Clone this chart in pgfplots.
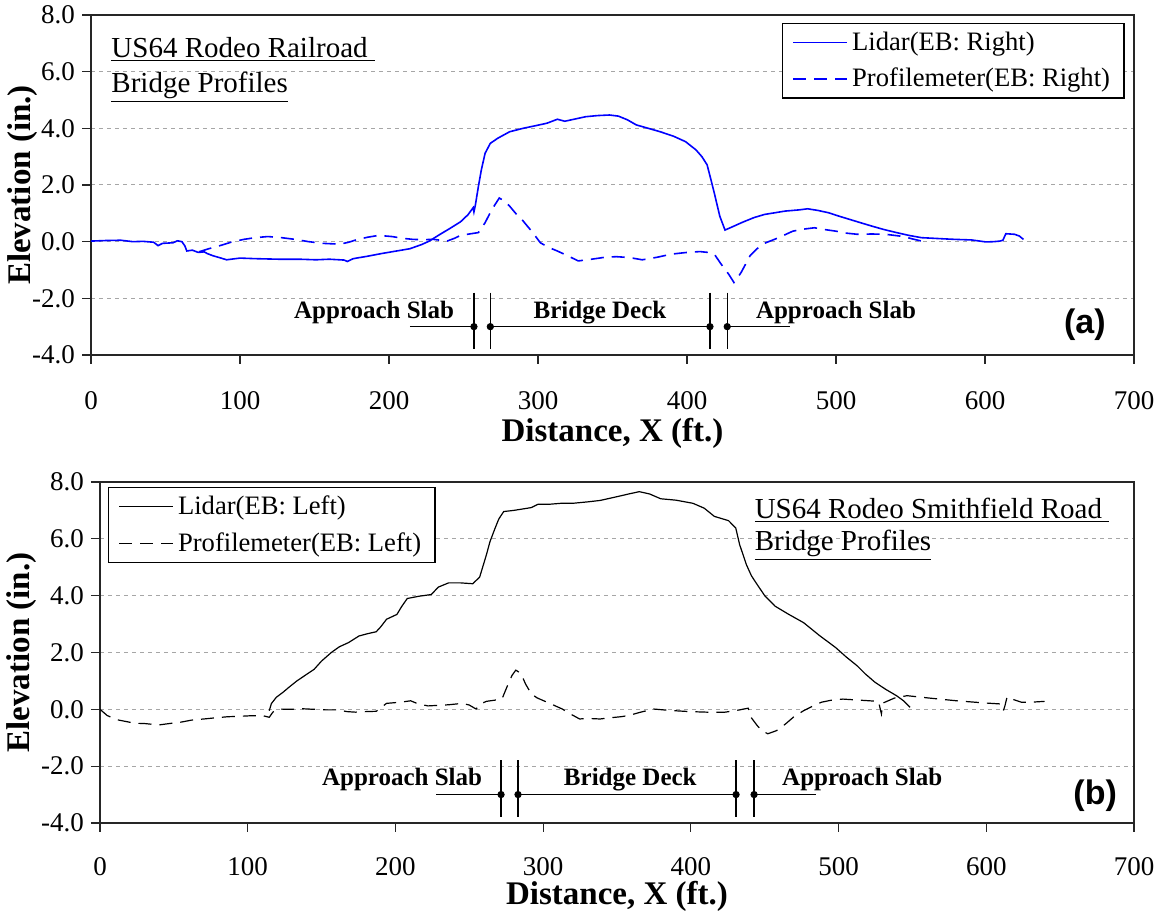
\documentclass[border=0pt]{standalone}
\usepackage{fontspec}
\setmainfont{Liberation Serif}
\newfontfamily\arialfont{Liberation Sans}
\usepackage{pgfplots}
\pgfplotsset{compat=1.18}

\pgfplotsset{
  profile/.style={
    scale only axis,
    xmin=0, xmax=700, ymin=-4, ymax=8,
    xtick={0,100,...,700}, ytick={-4,-2,...,8},
    tick align=outside, xtick pos=bottom, ytick pos=left,
    major tick length=4.5pt,
    axis line style={black!85, line width=0.7pt},
    every tick/.style={black!85, line width=0.6pt},
    ymajorgrids,
    major grid style={gray!70, dash pattern=on 2pt off 2pt, line width=0.5pt},
    tick label style={font=\fontsize{13.5}{16}\selectfont},
    /pgf/number format/assume math mode=true,
    yticklabel style={/pgf/number format/fixed, /pgf/number format/fixed zerofill, /pgf/number format/precision=1},
    label style={font=\bfseries\fontsize{16.5}{19}\selectfont},
    legend style={font=\fontsize{13.3}{16}\selectfont, draw=black, line width=0.6pt, fill=white,
      inner xsep=5pt, inner ysep=2pt, row sep=3.5pt},
    legend cell align=left,
    legend image code/.code={\draw[#1] (0pt,0pt) -- (27pt,0pt);},
    clip=false,
  },
}
\tikzset{
  anno/.style={font=\bfseries\fontsize{12.5}{15}\selectfont},
  ttl/.style={anchor=west, font=\fontsize{14.5}{17}\selectfont},
}

\begin{document}
\begin{tikzpicture}
\useasboundingbox (0,0) rectangle (580.5pt,-456.5pt);

% (a) railroad bridge
\begin{axis}[profile,
  at={(45.5pt,-7.5pt)}, anchor=north west, width=521.5pt, height=170pt,
  xlabel={Distance, X (ft.)}, ylabel={Elevation (in.)},
  xticklabel style={yshift=-10pt},
  xlabel style={at={(axis description cs:0.5,-0.23)}, anchor=center},
  ylabel style={at={(axis description cs:-0.066,0.5)}, anchor=center},
  legend style={at={(0.991,0.976)}, anchor=north east},
]
\addplot[blue, line width=0.8pt] coordinates {
(0,0.02) (10,0.04) (20,0.05) (28,0.0) (35,0.01) (42,-0.02) (45,-0.14) (48,-0.06)
(55,-0.04) (58,0.03) (61,0.0) (63,-0.15) (64.3,-0.33) (68,-0.3) (72,-0.38) (76,-0.36)
(78,-0.42) (82,-0.5) (86,-0.56) (91,-0.64) (100,-0.58) (110,-0.6) (126,-0.62) (140,-0.62)
(151,-0.64) (160,-0.62) (170,-0.65) (172,-0.7) (176,-0.6) (185,-0.52) (195,-0.42) (205,-0.33)
(214,-0.25) (222,-0.1) (227,0.02) (234,0.25) (241,0.47) (248,0.7) (253,0.95) (256.5,1.2)
(257,1.05) (258,1.3) (260,1.95) (262,2.54) (264.5,3.12) (268,3.47) (273,3.65) (281,3.88)
(290,4.0) (299,4.1) (306,4.18) (313,4.32) (318,4.25) (325,4.33) (332,4.41) (340,4.45)
(348,4.47) (354,4.43) (360,4.3) (366,4.12) (374,4.0) (382,3.88) (391,3.72) (399,3.53)
(406,3.24) (410,3.0) (413.5,2.71) (416,2.2) (418.3,1.72) (422,0.9) (425.5,0.41) (429,0.49)
(437.5,0.69) (445,0.85) (452,0.96) (466,1.08) (475,1.12) (481,1.16) (488,1.1) (495,1.02)
(502,0.9) (509.5,0.78) (517,0.66) (524,0.55) (532,0.43) (540.6,0.32) (549,0.22) (557.4,0.14)
(565,0.12) (572,0.1) (580,0.08) (591,0.06) (600.6,-0.01) (606,0.0) (610,0.02) (612,0.05)
(614,0.28) (619.8,0.26) (623,0.2) (625.8,0.08)
};
\addlegendentry{Lidar(EB: Right)}
\addplot[blue, line width=0.8pt, dash pattern=on 6.5pt off 4pt] coordinates {
(72.4,-0.36) (79,-0.25) (86,-0.15) (94,-0.02) (102.5,0.08) (110,0.14) (118.7,0.18) (128,0.14)
(137,0.08) (146,0.0) (155.7,-0.06) (167,-0.09) (173,-0.02) (179,0.08) (186,0.16) (193,0.22)
(202,0.18) (209,0.12) (216,0.08) (223,0.07) (230,0.08) (239,0.02) (244,0.12) (248,0.22)
(255,0.28) (260,0.32) (264.5,0.67) (269,1.13) (274,1.54) (277,1.45) (281,1.25) (285,1.0)
(290,0.73) (296,0.35) (301.6,-0.04) (307,-0.2) (313,-0.33) (320,-0.5) (327,-0.68) (333,-0.64)
(338.6,-0.6) (345,-0.55) (352.5,-0.53) (361,-0.56) (370,-0.64) (380,-0.55) (389.6,-0.44) (400,-0.38)
(408.7,-0.35) (414,-0.38) (418.3,-0.44) (423,-0.8) (428,-1.15) (431.5,-1.44) (433,-1.35) (436.3,-1.09)
(442.3,-0.5) (447,-0.25) (451.9,-0.06) (461.5,0.14) (471,0.37) (478,0.44) (485.5,0.49) (492,0.43)
(499.9,0.37) (507,0.3) (514.3,0.26) (524,0.27) (533.4,0.26) (545.4,0.18) (551,0.1) (557.4,0.02)
};
\addlegendentry{Profilemeter(EB: Right)}
% section markers
\addplot[black, line width=0.7pt, forget plot] coordinates {(214,-3) (257,-3)};
\addplot[black, line width=0.7pt, forget plot] coordinates {(268,-3) (415.4,-3)};
\addplot[black, line width=0.7pt, forget plot] coordinates {(427,-3) (469,-3)};
\addplot[black, line width=0.6pt, forget plot] coordinates {(257,-1.8) (257,-3.8)};
\addplot[black, line width=0.6pt, forget plot] coordinates {(268,-1.8) (268,-3.8)};
\addplot[black, line width=0.6pt, forget plot] coordinates {(415.4,-1.8) (415.4,-3.8)};
\addplot[black, line width=0.6pt, forget plot] coordinates {(427,-1.8) (427,-3.8)};
\addplot[black, only marks, mark=*, mark size=1.6pt, forget plot] coordinates {(257,-3) (268,-3) (415.4,-3) (427,-3)};
\node[anno] at (axis cs:190,-2.5) {Approach Slab};
\node[anno] at (axis cs:341.6,-2.5) {Bridge Deck};
\node[anno] at (axis cs:500,-2.5) {Approach Slab};
\node[ttl] at (axis cs:9,6.77) {\underline{US64 Rodeo Railroad\ }};
\node[ttl] at (axis cs:9,5.46) {\underline{Bridge Profiles}};
\node[font=\arialfont\bfseries\fontsize{17}{20}\selectfont] at (axis cs:667,-2.94) {(a)};
\end{axis}

% (b) Smithfield Road bridge
\begin{axis}[profile,
  at={(50pt,-241pt)}, anchor=north west, width=517pt, height=170.5pt,
  xlabel={Distance, X (ft.)}, ylabel={Elevation (in.)},
  xticklabel style={yshift=-9pt},
  xlabel style={at={(axis description cs:0.5,-0.215)}, anchor=center},
  ylabel style={at={(axis description cs:-0.0754,0.5)}, anchor=center},
  legend style={at={(0.008,0.985)}, anchor=north west},
]
\addplot[black, line width=0.6pt] coordinates {
(114.6,-0.05) (116,0.2) (119.3,0.42) (123.9,0.6) (128,0.78) (133.3,1.0) (139,1.2) (145,1.41)
(150,1.7) (156.6,2.0) (162,2.2) (168.3,2.35) (175.3,2.58) (181,2.66) (187,2.73) (190,2.9)
(194,3.17) (201,3.34) (204,3.6) (208,3.9) (216,3.98) (224.3,4.04) (229,4.3) (236,4.45)
(244,4.45) (252.3,4.42) (257,4.65) (261.6,5.44) (264,5.9) (267.5,6.38) (270,6.7) (273.3,6.96)
(280,7.0) (287.3,7.06) (292,7.1) (296.7,7.22) (305,7.22) (312,7.25) (320,7.25) (330,7.3)
(338.5,7.35) (350.6,7.49) (358,7.58) (365.1,7.66) (372,7.58) (379.6,7.41) (390,7.36) (401.4,7.25)
(409,7.08) (415.9,6.79) (425.5,6.64) (430.4,6.38) (433,5.8) (437.6,5.09) (441,4.7) (444.9,4.39)
(450,4.0) (457,3.63) (466,3.35) (476.3,3.05) (487,2.6) (498.1,2.17) (505,1.85) (512.6,1.53)
(518,1.25) (524.7,0.95) (532,0.7) (539.2,0.48) (544,0.3) (548.4,0.07)
};
\addlegendentry{Lidar(EB: Left)}
\addplot[black, line width=0.6pt, dash pattern=on 6.5pt off 4pt] coordinates {
(0,0.0) (4.9,-0.22) (11.9,-0.37) (23.5,-0.49) (30,-0.5) (39.9,-0.55) (47,-0.5) (53.9,-0.46)
(62,-0.38) (70.2,-0.34) (78,-0.3) (86.6,-0.26) (93,-0.25) (100.6,-0.23) (109.9,-0.22) (114.6,-0.28)
(117,-0.1) (120.4,0.01) (128.6,0.0) (137,0.02) (145,0.0) (153,-0.02) (161.3,-0.02) (167,-0.08)
(173,-0.1) (180,-0.08) (187,-0.07) (190,0.05) (194,0.21) (203.3,0.25) (210.3,0.3) (215,0.2)
(222,0.12) (229,0.14) (236,0.16) (245.3,0.21) (250,0.15) (254.6,0.01) (258,0.2) (261.6,0.28)
(267,0.32) (272.1,0.36) (274,0.6) (276.8,0.95) (279,1.2) (281.5,1.38) (285,1.26) (288,0.9)
(292,0.54) (296,0.4) (301.3,0.28) (307,0.15) (313,0.01) (318,-0.15) (324.7,-0.34) (330,-0.32)
(338.5,-0.34) (345,-0.3) (352.7,-0.26) (357.8,-0.22) (366,-0.1) (374.8,0.01) (386,-0.04) (399,-0.08)
(411,-0.1) (423.1,-0.1) (430,-0.05) (438.8,0.04) (441,-0.3) (444.9,-0.57) (448,-0.75) (452.1,-0.86)
(458,-0.75) (464.2,-0.51) (470,-0.25) (476.3,-0.05) (482,0.1) (488.4,0.25) (495,0.32) (502.9,0.36)
(515,0.32) (527,0.28) (529,-0.16) (530,0.22) (538,0.4) (546.4,0.48) (557,0.42) (568.2,0.36)
(580,0.3) (592.4,0.25) (600,0.22) (609.3,0.19) (611.5,-0.05) (612.5,0.1) (614.1,0.44) (618,0.35)
(623.8,0.25) (630,0.25) (639.5,0.28)
};
\addlegendentry{Profilemeter(EB: Left)}
% section markers
\addplot[black, line width=0.7pt, forget plot] coordinates {(227.6,-3) (271.5,-3)};
\addplot[black, line width=0.7pt, forget plot] coordinates {(283,-3) (430.6,-3)};
\addplot[black, line width=0.7pt, forget plot] coordinates {(442.8,-3) (484.5,-3)};
\addplot[black, line width=0.6pt, forget plot] coordinates {(271.5,-1.8) (271.5,-3.8)};
\addplot[black, line width=0.6pt, forget plot] coordinates {(283,-1.8) (283,-3.8)};
\addplot[black, line width=0.6pt, forget plot] coordinates {(430.6,-1.8) (430.6,-3.8)};
\addplot[black, line width=0.6pt, forget plot] coordinates {(442.8,-1.8) (442.8,-3.8)};
\addplot[black, only marks, mark=*, mark size=1.6pt, forget plot] coordinates {(271.5,-3) (283,-3) (430.6,-3) (442.8,-3)};
\node[anno] at (axis cs:204.5,-2.46) {Approach Slab};
\node[anno] at (axis cs:359,-2.46) {Bridge Deck};
\node[anno] at (axis cs:516,-2.46) {Approach Slab};
\node[ttl] at (axis cs:438.5,7.0) {\underline{US64 Rodeo Smithfield Road\ }};
\node[ttl] at (axis cs:438.5,5.77) {\underline{Bridge Profiles}};
\node[font=\arialfont\bfseries\fontsize{17}{20}\selectfont] at (axis cs:673.7,-3.03) {(b)};
\end{axis}
\end{tikzpicture}
\end{document}
